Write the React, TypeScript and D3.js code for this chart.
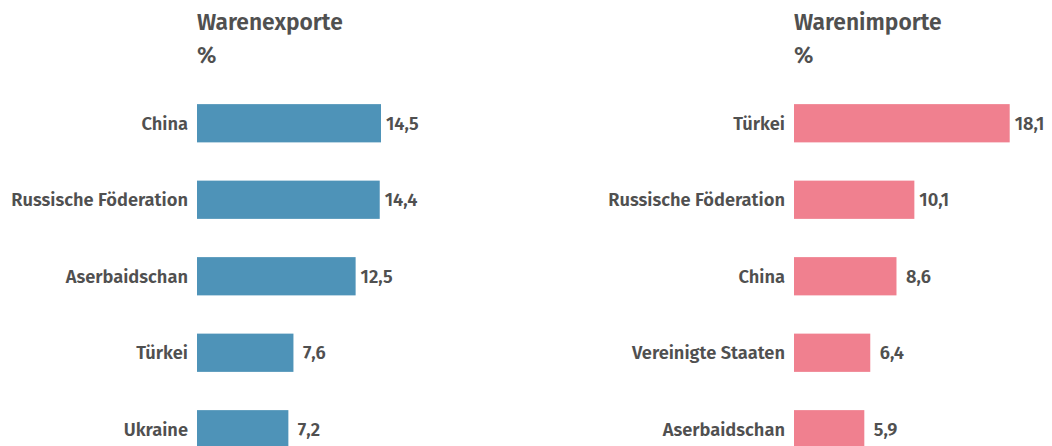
import React from "react";
import * as d3 from "d3";

const exportCountries = ["China", "Russische Föderation", "Aserbaidschan", "Türkei", "Ukraine"];
const exportValues = [14.5, 14.4, 12.5, 7.6, 7.2];
const importCountries = ["Türkei", "Russische Föderation", "China", "Vereinigte Staaten", "Aserbaidschan"];
const importValues = [18.1, 10.1, 8.6, 6.4, 5.9];

const W = 1052;
const H = 446;
const FONT = "'Fira Sans', 'Open Sans', 'Noto Sans', sans-serif";
const TEXT = "#505050";

type PanelProps = {
  title: string;
  cats: string[];
  vals: number[];
  x0: number;
  x1: number;
  color: string;
};

const fmt = (v: number) => {
  const s = d3.format(".1f")(v).replace(".", ",");
  return v < 10 ? "\u00A0" + s : s;
};

function Panel({ title, cats, vals, x0, x1, color }: PanelProps) {
  const maxV = d3.max(vals) as number;
  const x = d3.scaleLinear().domain([0, maxV]).range([x0, x1]);
  const y = d3
    .scaleBand<string>()
    .domain(cats)
    .range([85, 85 + 5 * 76.5])
    .paddingInner(0.5)
    .paddingOuter(0.25);
  return (
    <g>
      <text x={x0} y={30} fontFamily={FONT} fontWeight={600} fontSize={22.8} fill={TEXT}>
        {title}
      </text>
      <text x={x0} y={63} fontFamily={FONT} fontWeight={600} fontSize={22.8} fill={TEXT}>
        %
      </text>
      {cats.map((c, i) => {
        const yy = y(c) as number;
        const bw = y.bandwidth();
        return (
          <g key={c}>
            <rect x={x(0)} y={yy} width={x(vals[i]) - x(0)} height={bw} fill={color} />
            <text
              x={x(0) - 9}
              y={yy + bw / 2}
              dy="0.35em"
              textAnchor="end"
              fontFamily={FONT}
              fontWeight={600}
              fontSize={18.3}
              fill={TEXT}
            >
              {c}
            </text>
            <text
              x={x(vals[i]) + 5}
              y={yy + bw / 2}
              dy="0.35em"
              fontFamily={FONT}
              fontWeight={600}
              fontSize={18.3}
              fill={TEXT}
            >
              {fmt(vals[i])}
            </text>
          </g>
        );
      })}
    </g>
  );
}

export default function App() {
  return (
    <svg width={W} height={H} style={{ position: "absolute", left: 0, top: 0 }}>
      <rect width={W} height={H} fill="#ffffff" />
      <Panel title="Warenexporte" cats={exportCountries} vals={exportValues} x0={197} x1={381} color="#4e93b8" />
      <Panel title="Warenimporte" cats={importCountries} vals={importValues} x0={794} x1={1009.7} color="#f0808f" />
    </svg>
  );
}
